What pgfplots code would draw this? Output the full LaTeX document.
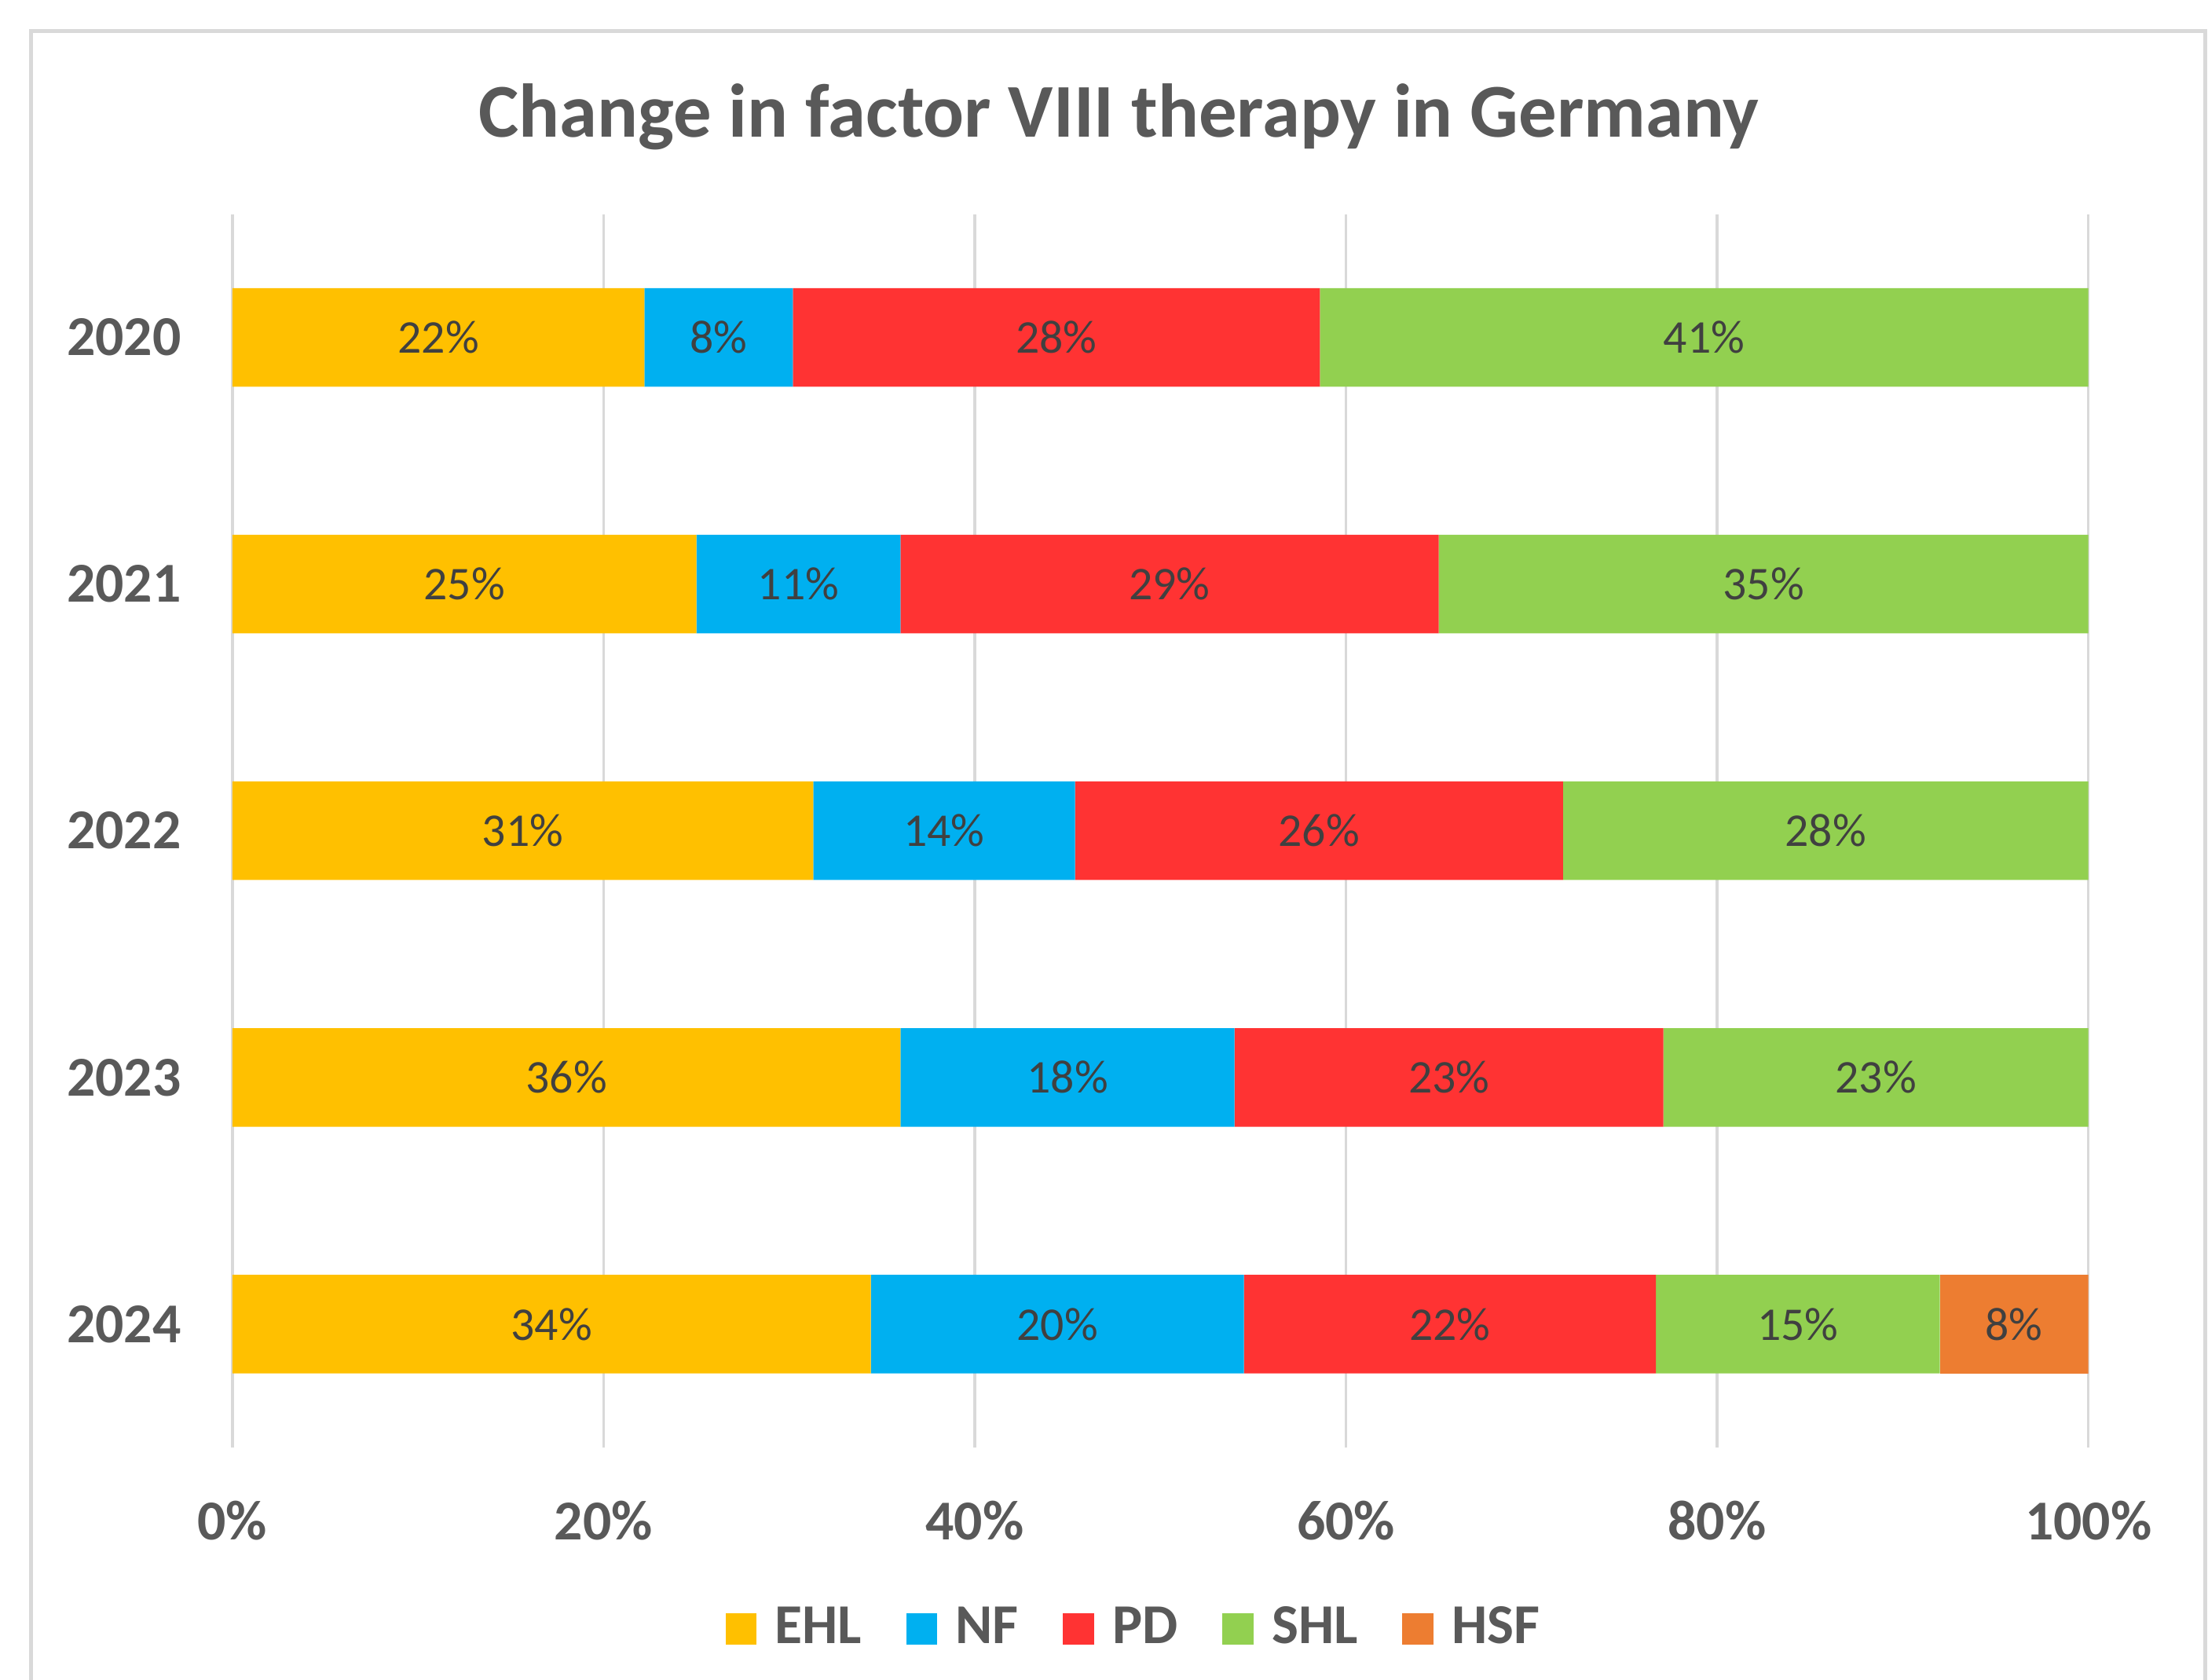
\documentclass[border=0pt]{standalone}
\usepackage{pgfplots}
\pgfplotsset{compat=1.18}
\usepackage{pgfplotstable}
\usepackage{fontspec}
\setmainfont{Carlito}
\definecolor{cEHL}{HTML}{FFC000}
\definecolor{cNF}{HTML}{00B0F0}
\definecolor{cPD}{HTML}{FF3333}
\definecolor{cSHL}{HTML}{92D050}
\definecolor{cHSF}{HTML}{ED7D31}
\definecolor{txt}{HTML}{595959}
\definecolor{lbl}{HTML}{404040}
\definecolor{grd}{HTML}{D9D9D9}

\pgfplotstableread{
idx EHL NF PD SHL HSF
0 22.2 8.0 28.4 41.4 0
1 25.0 11.0 29.0 35.0 0
2 31.3 14.1 26.3 28.3 0
3 36.0 18.0 23.1 22.9 0
4 34.4 20.1 22.2 15.3 8.0
}\datatable

\pgfplotsset{
  legsq/.style={legend image code/.code={\fill[##1] (0pt,-3.3pt) rectangle (6.6pt,3.3pt);}},
  seg/.style 2 args={fill=#1, draw=none, legsq,
    point meta=\thisrow{#2},
    every node near coord/.append style={anchor=center, font=\fontsize{10}{12}\selectfont, text=lbl}},
}
\begin{document}
\begin{tikzpicture}
\begin{axis}[
  scale only axis, width=395.4pt, height=262.8pt,
  xbar stacked, bar width=21pt,
  xmin=0, xmax=100, ymin=-0.5, ymax=4.5, y dir=reverse,
  xtick={0,20,40,60,80,100}, xticklabels={0\%,20\%,40\%,60\%,80\%,100\%},
  ytick={0,1,2,3,4}, yticklabels={2020,2021,2022,2023,2024},
  xmajorgrids, grid style={grd, line width=0.6pt},
  axis line style={draw=none}, major tick length=0pt,
  tick label style={font=\fontsize{12}{14}\selectfont\bfseries, text=txt},
  xticklabel style={anchor=center, yshift=-15.6pt},
  yticklabel style={anchor=east, xshift=-7.4pt},
  title={Change in factor VIII therapy in Germany},
  title style={at={(0.4776,1)}, anchor=center, yshift=14.7pt, font=\fontsize{16.2}{19}\selectfont\bfseries, text=txt},
  /pgf/number format/assume math mode=true,
  nodes near coords={\pgfmathfloatifflags{\pgfplotspointmeta}{0}{}{\pgfmathprintnumber[fixed,precision=0]{\pgfplotspointmeta}\%}},
  legend style={at={(0.490,-0.147)}, anchor=center, draw=none, fill=none, legend columns=-1,
    font=\fontsize{12}{14}\selectfont\bfseries, text=txt,
    nodes={inner xsep=3.9pt},
    /tikz/every even column/.append style={column sep=5.6pt}},
]
\addplot[seg={cEHL}{EHL}] table[x=EHL, y=idx] {\datatable};
\addplot[seg={cNF}{NF}] table[x=NF, y=idx] {\datatable};
\addplot[seg={cPD}{PD}] table[x=PD, y=idx] {\datatable};
\addplot[seg={cSHL}{SHL}] table[x=SHL, y=idx] {\datatable};
\addplot[seg={cHSF}{HSF}] table[x=HSF, y=idx] {\datatable};
\legend{EHL,NF,PD,SHL,HSF}
\end{axis}
\draw[grd, line width=0.8pt] ([shift={(-42.9pt,-60pt)}]current axis.south west) |- ([shift={(24.9pt,39pt)}]current axis.north east) -- ([shift={(24.9pt,-60pt)}]current axis.south east);
\pgfresetboundingbox
\path ([shift={(-49.5pt,-49.5pt)}]current axis.south west) rectangle ([shift={(25.5pt,45.6pt)}]current axis.north east);
\end{tikzpicture}
\end{document}
